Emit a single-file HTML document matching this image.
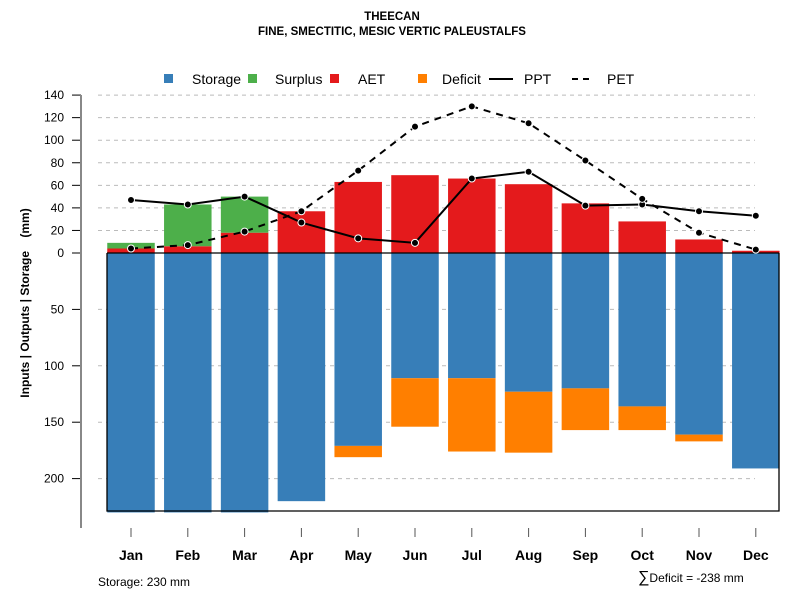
<!DOCTYPE html>
<html><head><meta charset="utf-8"><style>
body{margin:0;background:#fff;}
svg{display:block;font-family:"Liberation Sans",sans-serif;}
</style></head><body>
<svg id="chart" width="800" height="600" viewBox="0 0 800 600">
<text x="392" y="20" text-anchor="middle" font-size="11.5" font-weight="bold">THEECAN</text>
<text x="392" y="35" text-anchor="middle" font-size="11.5" font-weight="bold">FINE, SMECTITIC, MESIC VERTIC PALEUSTALFS</text>
<g font-size="14">
<rect x="164" y="74" width="9" height="9" fill="#377EB8"/>
<text x="192" y="84">Storage</text>
<rect x="248" y="74" width="9" height="9" fill="#4DAF4A"/>
<text x="275" y="84">Surplus</text>
<rect x="330" y="74" width="9" height="9" fill="#E41A1C"/>
<text x="358" y="84">AET</text>
<rect x="418" y="74" width="9" height="9" fill="#FF7F00"/>
<text x="442" y="84">Deficit</text>
<line x1="489" y1="79" x2="513" y2="79" stroke="#000" stroke-width="2"/>
<text x="524" y="84">PPT</text>
<line x1="572" y1="79" x2="594" y2="79" stroke="#000" stroke-width="2" stroke-dasharray="6,5"/>
<text x="607" y="84">PET</text>
</g>
<g id="grid"></g><g id="bars"></g><g id="lines"></g><g id="axes"></g>
<text transform="translate(29,303) rotate(-90)" text-anchor="middle" font-size="12" font-weight="bold">Inputs | Outputs | Storage&#160;&#160;&#160;&#160;(mm)</text>
<text x="98" y="586" font-size="12">Storage: 230 mm</text>
<text x="638" y="582" font-size="12"><tspan font-size="16">∑</tspan>Deficit = -238 mm</text>
</svg>
<script>
const months=["Jan","Feb","Mar","Apr","May","Jun","Jul","Aug","Sep","Oct","Nov","Dec"];
const storage=[230,230,230,220,171,111,111,123,120,136,161,191];
const deficit=[0,0,0,0,10,43,65,54,37,21,6,0];
const aet=[4,6,18,37,63,69,66,61,44,28,12,2];
const surplus=[5,37,32,0,0,0,0,0,0,0,0,0];
const ppt=[47,43,50,27,13,9,66,72,42,43,37,33];
const pet=[4,7,19,37,73,112,130,115,82,48,18,3];
const upTicks=[0,20,40,60,80,100,120,140];
const downTicks=[50,100,150,200];
const NS="http://www.w3.org/2000/svg";
const y0=253,k=1.128;
const yUp=v=>y0-v*k, yDn=v=>y0+v*k;
const xC=i=>131+i*56.8, bw=47.5;
function mk(p,t,a){const e=document.createElementNS(NS,t);for(const n in a)e.setAttribute(n,a[n]);document.getElementById(p).appendChild(e);return e;}
upTicks.forEach(v=>{if(v>0){const g=mk('grid','line',{x1:98,x2:755,y1:yUp(v),y2:yUp(v),stroke:'#bbb','stroke-dasharray':'4,4'});

}
const t=mk('axes','line',{x1:72,x2:81,y1:yUp(v),y2:yUp(v),stroke:'#000'});


const l=mk('axes','text',{x:64,y:yUp(v)+4,'text-anchor':'end','font-size':12});l.textContent=v;

});
downTicks.forEach(v=>{const g=mk('grid','line',{x1:98,x2:755,y1:yDn(v),y2:yDn(v),stroke:'#bbb','stroke-dasharray':'4,4'});


const t=mk('axes','line',{x1:72,x2:81,y1:yDn(v),y2:yDn(v),stroke:'#000'});


const l=mk('axes','text',{x:64,y:yDn(v)+4,'text-anchor':'end','font-size':12});l.textContent=v;

});
const ax=mk('axes','line',{x1:81,x2:81,y1:95,y2:528,stroke:'#888','stroke-width':2});


months.forEach((m,i)=>{const x=xC(i)-bw/2;
const s=mk('bars','rect',{x:x,y:y0,width:bw,height:storage[i]*k,fill:'#377EB8'});


if(deficit[i]>0){const d=mk('bars','rect',{x:x,y:yDn(storage[i]),width:bw,height:deficit[i]*k,fill:'#FF7F00'});

}
const a=mk('bars','rect',{x:x,y:yUp(aet[i]),width:bw,height:aet[i]*k,fill:'#E41A1C'});


if(surplus[i]>0){const u=mk('bars','rect',{x:x,y:yUp(aet[i]+surplus[i]),width:bw,height:surplus[i]*k,fill:'#4DAF4A'});

}
const t=mk('axes','line',{x1:xC(i),x2:xC(i),y1:528,y2:537,stroke:'#555'});


const l=mk('axes','text',{x:xC(i),y:560,'text-anchor':'middle','font-size':14,'font-weight':'bold'});l.textContent=m;

});
const box=mk('bars','path',{d:'M107,253 V511 H779 V253',fill:'none',stroke:'#000','stroke-width':1.3});


const zl=mk('bars','line',{x1:107,x2:779,y1:y0,y2:y0,stroke:'#000','stroke-width':1.3});


function series(arr,name,dash){
const p=mk('lines','polyline',{points:arr.map((v,i)=>xC(i)+','+yUp(v)).join(' '),fill:'none',stroke:'#000','stroke-width':2,'stroke-dasharray':dash});


arr.forEach((v,i)=>{const c=mk('lines','circle',{cx:xC(i),cy:yUp(v),r:3.5,fill:'#000',stroke:'#fff','stroke-width':1});

});}
series(ppt,'ppt','none');
series(pet,'pet','7,6');
</script>
</body></html>
